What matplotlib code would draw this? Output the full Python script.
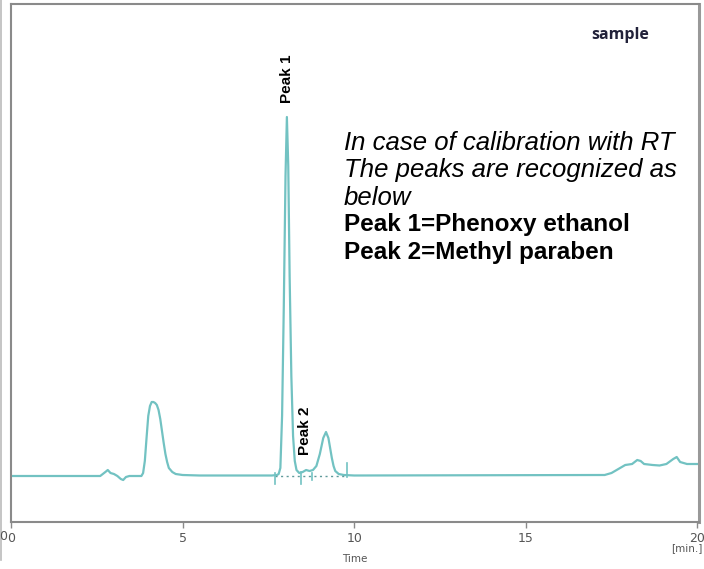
import matplotlib.pyplot as plt
from matplotlib.lines import Line2D

# chromatogram trace (time in min, signal above baseline)
time = [0.0, 2.6, 2.75, 2.82, 2.9, 3.0, 3.1, 3.2, 3.27, 3.35, 3.45,
        3.8, 3.85, 3.9, 3.95, 4.0, 4.05, 4.1, 4.15, 4.2, 4.25, 4.3, 4.35,
        4.4, 4.45, 4.5, 4.55, 4.6, 4.7, 4.8, 5.0, 5.5,
        7.6, 7.75, 7.8, 7.85, 7.9, 7.95, 8.0, 8.04, 8.08, 8.12, 8.17, 8.22,
        8.27, 8.32, 8.4, 8.5, 8.6, 8.7, 8.8, 8.9, 9.0, 9.1, 9.18, 9.25,
        9.3, 9.35, 9.4, 9.45, 9.55, 9.7, 10.0,
        17.3, 17.5, 17.7, 17.9, 18.1, 18.25, 18.35, 18.45, 18.7, 18.9,
        19.1, 19.3, 19.4, 19.5, 19.7, 20.0]
signal = [0, 0, 4, 6, 3, 2, 0, -3, -4, -1, 0,
          0, 3, 15, 38, 60, 70, 74, 74, 73, 71, 66, 57,
          45, 33, 22, 14, 8, 4, 2, 1, 0.5,
          0.5, 1, 2, 8, 60, 170, 300, 359, 310, 200, 100, 40,
          15, 6, 3, 4, 6, 5, 6, 10, 22, 38, 44, 38,
          28, 18, 10, 5, 2, 1, 0.5,
          1, 3, 7, 11, 12, 16, 15, 12, 11, 10.5,
          12, 17, 19, 14, 12, 12]

# integration marks: (time, low, high)
marks = [(7.7, -8, 3), (8.45, -8, 4), (8.77, -4, 3), (9.8, -1, 13)]
base_start, base_end = 7.7, 9.8

peak_labels = ['Peak 1', 'Peak 2']
peak_label_pos = [(8.05, 373), (8.57, 21)]

xticks = [0, 5, 10, 15, 20]

note_italic = ['In case of calibration with RT',
               'The peaks are recognized as',
               'below']
note_bold = ['Peak 1=Phenoxy ethanol',
             'Peak 2=Methyl paraben']

teal = '#72c2c2'
grey = '#8a8a8a'
narrow = ['Liberation Sans Narrow', 'DejaVu Sans']
arial = ['Liberation Sans', 'DejaVu Sans']

fig = plt.figure(figsize=(7.04, 5.69), dpi=100)
ax = fig.add_axes([11 / 704, 47 / 569, 688 / 704, 518 / 569])

ax.plot(time, signal, color=teal, lw=1.6, solid_joinstyle='round')
ax.plot([base_start, base_end], [0, 0], color='#5f9a9a', lw=1.0, ls=(0, (1.5, 2.5)))
for t, lo, hi in marks:
    ax.plot([t, t], [lo, hi], color=teal, lw=1.2)

for lab, (t, y) in zip(peak_labels, peak_label_pos):
    ax.text(t, y, lab, rotation=90, ha='center', va='bottom',
            fontsize=11, fontweight='bold', family=arial)

ax.set_xlim(0, 20.05)
ax.set_ylim(-46, 472)
ax.set_yticks([])
ax.set_xticks(xticks)
ax.set_xticklabels([str(v) for v in xticks], family=narrow, fontsize=9, color='#555555')
ax.tick_params(axis='x', length=4, width=1, color=grey, pad=3)
for side in ['top', 'right', 'bottom', 'left']:
    ax.spines[side].set_color(grey)
    ax.spines[side].set_linewidth(1.5)
ax.spines['right'].set_color('#999999')
ax.spines['right'].set_linewidth(2.2)

ax.text(0.5, -0.062, 'Time', transform=ax.transAxes, ha='center', va='top',
        fontsize=7.5, color='#555555', family=narrow)
ax.text(0.982, -0.041, '[min.]', transform=ax.transAxes, ha='center', va='top',
        fontsize=7.5, color='#555555', family=narrow)
ax.text(0.885, 0.94, 'sample', transform=ax.transAxes, ha='center', va='center',
        fontsize=11.5, fontweight='bold', color='#22223a', family=['Open Sans', 'DejaVu Sans'])

y0 = 143
for i, line in enumerate(note_italic + note_bold):
    bold = i >= len(note_italic)
    fig.text(344 / 704, 1 - (y0 + i * 27.3) / 569, line, ha='left', va='center',
             fontsize=17.5 if bold else 18.5, fontstyle='normal' if bold else 'italic',
             fontweight='bold' if bold else 'normal', family=arial)

# cropped neighbouring axis at the far left
fig.text(3 / 704, 1 - 537 / 569, '0', ha='center', va='center', fontsize=9,
         color='#555555', family=narrow)
fig.add_artist(Line2D([1 / 704, 1 / 704], [1 - 560 / 569, 1.0], color='#bbbbbb', lw=1.2))

fig.savefig('out.png', dpi=100)
